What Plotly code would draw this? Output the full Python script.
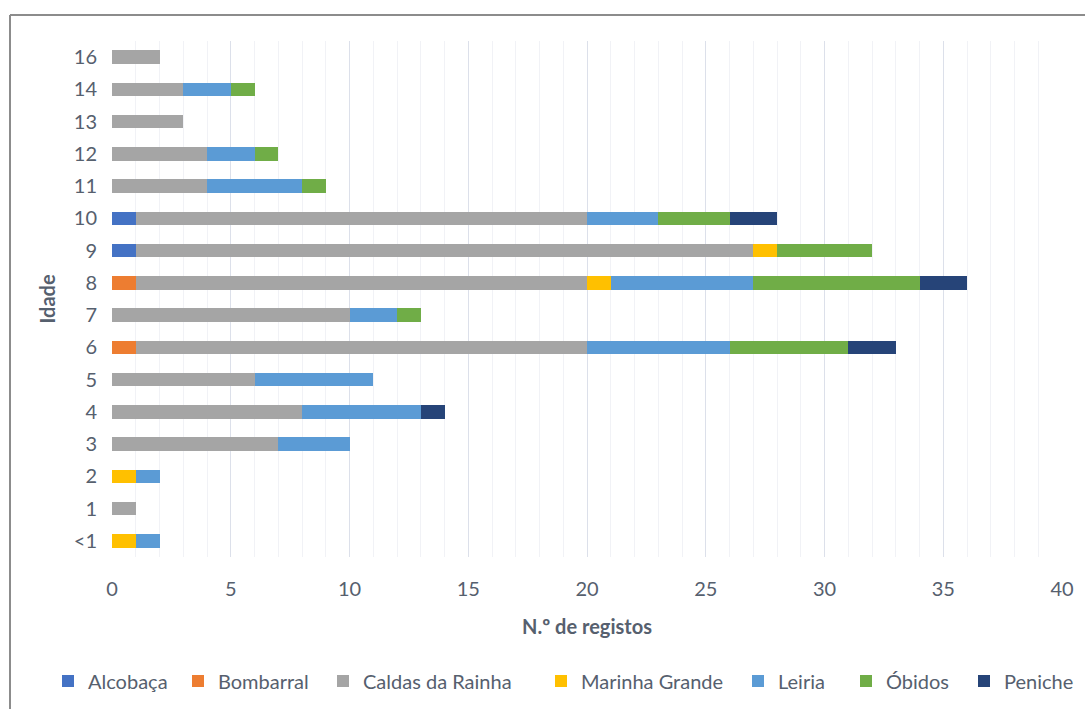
import plotly.graph_objects as go

ages = ["<1", "1", "2", "3", "4", "5", "6", "7", "8", "9", "10", "11", "12", "13", "14", "16"]

alcobaca = [0, 0, 0, 0, 0, 0, 0, 0, 0, 1, 1, 0, 0, 0, 0, 0]
bombarral = [0, 0, 0, 0, 0, 0, 1, 0, 1, 0, 0, 0, 0, 0, 0, 0]
caldas = [0, 1, 0, 7, 8, 6, 19, 10, 19, 26, 19, 4, 4, 3, 3, 2]
marinha = [1, 0, 1, 0, 0, 0, 0, 0, 1, 1, 0, 0, 0, 0, 0, 0]
leiria = [1, 0, 1, 3, 5, 5, 6, 2, 6, 0, 3, 4, 2, 0, 2, 0]
obidos = [0, 0, 0, 0, 0, 0, 5, 1, 7, 4, 3, 1, 1, 0, 1, 0]
peniche = [0, 0, 0, 0, 1, 0, 2, 0, 2, 0, 2, 0, 0, 0, 0, 0]

series = [
    ("Alcobaça", alcobaca, "#4472C4"),
    ("Bombarral", bombarral, "#ED7D31"),
    ("Caldas da Rainha", caldas, "#A5A5A5"),
    ("Marinha Grande", marinha, "#FFC000"),
    ("Leiria", leiria, "#5B9BD5"),
    ("Óbidos", obidos, "#70AD47"),
    ("Peniche", peniche, "#264478"),
]

# left edge (px) of each legend entry's swatch
legend_px = [62, 192, 337, 555, 752, 860, 978]

text_color = "#56606E"
font_family = "Lato, 'Open Sans', sans-serif"

W, H = 1085, 709
l, r, t, b = 112, 23, 41, 152
pw, ph = W - l - r, H - t - b

def px_x(p):
    return (p - l) / pw

def px_y(p):
    return (H - b - p) / ph

fig = go.Figure()
legends = {}
for i, (name, vals, color) in enumerate(series):
    key = "legend" if i == 0 else f"legend{i + 1}"
    fig.add_trace(go.Bar(
        y=ages, x=vals, name=name, orientation="h",
        marker=dict(color=color, line=dict(width=0)),
        legend=key, showlegend=True,
    ))
    legends[key] = dict(
        orientation="h", xref="container", x=(legend_px[i] - 14) / W, xanchor="left",
        yref="container", y=(H - 681) / H, yanchor="middle",
        font=dict(size=20, color=text_color),
        itemwidth=30, bgcolor="rgba(0,0,0,0)",
    )

fig.update_layout(
    width=W, height=H,
    showlegend=True,
    margin=dict(l=l, r=r, t=t, b=b, autoexpand=False),
    barmode="stack",
    bargap=0.58,
    plot_bgcolor="white",
    paper_bgcolor="white",
    font=dict(family=font_family, color=text_color, size=20),
    xaxis=dict(
        range=[0, 40], dtick=5, tick0=0,
        showgrid=True, gridcolor="#DCE0EA", gridwidth=1,
        minor=dict(dtick=1, showgrid=True, gridcolor="#F1F2F6", gridwidth=1),
        zeroline=False, showline=False, ticks="",
        tickfont=dict(size=20, color=text_color),
        ticklabelstandoff=18,
        automargin=False,
        title=dict(text="<b>N.º de registos</b>", font=dict(size=20, color=text_color), standoff=20),
    ),
    yaxis=dict(
        categoryorder="array", categoryarray=ages,
        showgrid=False, zeroline=False, showline=False, ticks="",
        tickfont=dict(size=20, color=text_color),
        ticklabelstandoff=14,
        automargin=False,
        title=dict(text="<b>Idade</b>", font=dict(size=20, color=text_color), standoff=12),
    ),
    shapes=[
        dict(type="line", xref="paper", yref="paper",
             x0=px_x(10), x1=px_x(1100), y0=px_y(15), y1=px_y(15),
             line=dict(color="#8C8C8C", width=2)),
        dict(type="line", xref="paper", yref="paper",
             x0=px_x(10), x1=px_x(10), y0=px_y(15), y1=px_y(720),
             line=dict(color="#8C8C8C", width=2)),
    ],
    **legends,
)

fig.write_html("out.html")
